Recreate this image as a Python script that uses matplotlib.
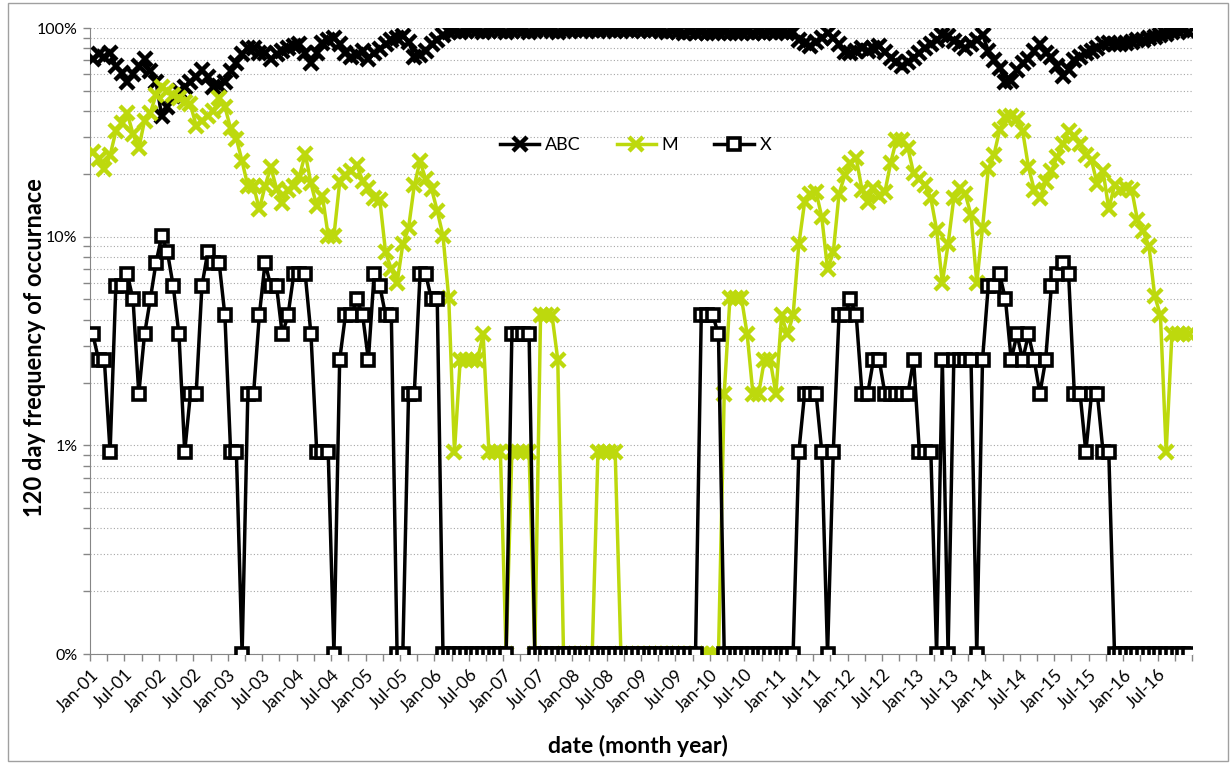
import matplotlib.pyplot as plt
from matplotlib.patches import Rectangle
import numpy as np

GREEN = '#BDD90D'
GRID = '#A6A6A6'
AXIS = '#868686'

# monthly values in percent, Jan-01 .. Dec-16 (0 = no occurrence)
abc = [71, 75, 73, 76, 66, 61, 55, 60, 66, 71, 62, 55,
       38, 42, 47, 50, 52, 55, 58, 63, 58, 52, 53, 55,
       62, 68, 75, 80, 80, 76, 76, 71, 75, 78, 80, 82,
       84, 76, 68, 76, 85, 88, 90, 84, 76, 73, 74, 78,
       71, 76, 79, 84, 88, 90, 92, 86, 73, 74, 78, 84,
       88, 93, 96, 97, 96, 97, 98, 97, 96, 97, 98, 97,
       96, 97, 98, 97, 96, 97, 98, 98, 97, 96, 97, 98,
       98, 97, 98, 98, 97, 98, 98, 97, 98, 98, 97, 98,
       98, 97, 98, 97, 96, 97, 96, 95, 96, 95, 96, 95,
       95, 96, 96, 95, 95, 96, 96, 95, 96, 95, 96, 96,
       96, 95, 96, 88, 85, 82, 86, 90, 95, 90, 84, 77,
       76, 78, 80, 78, 80, 82, 77, 72, 69, 66, 69, 72,
       76, 80, 84, 88, 93, 92, 87, 84, 80, 84, 88, 93,
       78, 70, 64, 55, 56, 63, 68, 71, 78, 84, 76, 73,
       66, 59, 63, 70, 73, 76, 78, 80, 84, 85, 84, 84,
       85, 86, 88, 88, 90, 91, 93, 94, 96, 97, 98, 96]

m = [25.5, 23.5, 21, 24.5, 32, 35, 39, 31, 26.5, 36, 39, 48,
     52, 50, 48, 46, 44, 43, 34, 36, 38, 40, 46, 42,
     33, 29.5, 23, 17.5, 17.5, 13.5, 17.5, 21.5, 17, 14.5, 16.8, 17.5,
     19.5, 25, 18, 14, 15.6, 10.1, 10.1, 18.2, 19.7, 20.6, 22, 18.5,
     17.2, 15.3, 15, 8.4, 7, 6, 9.2, 11, 17.6, 23, 18.8, 17,
     13.3, 10.1, 5.1, 0.93, 2.57, 2.57, 2.57, 2.57, 3.4, 0.93, 0.93, 0.93,
     0, 0.93, 0.93, 0.93, 0.93, 0, 4.2, 4.2, 4.2, 2.57, 0, 0,
     0, 0, 0, 0, 0.93, 0.93, 0.93, 0.93, 0, 0, 0, 0,
     0, 0, 0, 0, 0, 0, 0, 0, 0, 0, 0, 0,
     0, 0, 1.77, 5.1, 5.1, 5.1, 3.4, 1.77, 1.77, 2.57, 2.57, 1.77,
     4.2, 3.4, 4.2, 9.2, 14.6, 16, 16.4, 12.4, 7, 8.4, 16, 19.7,
     22.6, 23.7, 16.8, 14.6, 17.2, 15.6, 16.4, 22.6, 29.1, 29.1, 26.6, 20.1,
     19, 17.6, 15.3, 10.8, 6, 9.2, 15.3, 17.2, 16, 12.7, 6, 11,
     21, 24.7, 32.6, 37.5, 38, 36.7, 32, 21.6, 16.8, 15.3, 18.2, 20.6,
     24.2, 27.8, 32, 30.5, 27.8, 24.7, 23.2, 17.8, 20.6, 13.6, 17.6, 16.8,
     17.2, 16.8, 12, 10.6, 9, 5.2, 4.2, 0.93, 3.4, 3.4, 3.4, 3.4]

x_series = [3.4, 2.57, 2.57, 0.93, 5.8, 5.8, 6.6, 5.0, 1.77, 3.4, 5.0, 7.5,
            10.1, 8.4, 5.8, 3.4, 0.93, 1.77, 1.77, 5.8, 8.4, 7.5, 7.5, 4.2,
            0.93, 0.93, 0, 1.77, 1.77, 4.2, 7.5, 5.8, 5.8, 3.4, 4.2, 6.6,
            6.6, 6.6, 3.4, 0.93, 0.93, 0.93, 0, 2.57, 4.2, 4.2, 5.0, 4.2,
            2.57, 6.6, 5.8, 4.2, 4.2, 0, 0, 1.77, 1.77, 6.6, 6.6, 5.0,
            5.0, 0, 0, 0, 0, 0, 0, 0, 0, 0, 0, 0,
            0, 3.4, 3.4, 3.4, 3.4, 0, 0, 0, 0, 0, 0, 0,
            0, 0, 0, 0, 0, 0, 0, 0, 0, 0, 0, 0,
            0, 0, 0, 0, 0, 0, 0, 0, 0, 0, 4.2, 4.2,
            4.2, 3.4, 0, 0, 0, 0, 0, 0, 0, 0, 0, 0,
            0, 0, 0, 0.93, 1.77, 1.77, 1.77, 0.93, 0, 0.93, 4.2, 4.2,
            5.0, 4.2, 1.77, 1.77, 2.57, 2.57, 1.77, 1.77, 1.77, 1.77, 1.77, 2.57,
            0.93, 0.93, 0.93, 0, 2.57, 0, 2.57, 2.57, 2.57, 2.57, 0, 2.57,
            5.8, 5.8, 6.6, 5.0, 2.57, 3.4, 2.57, 3.4, 2.57, 1.77, 2.57, 5.8,
            6.6, 7.5, 6.6, 1.77, 1.77, 0.93, 1.77, 1.77, 0.93, 0.93, 0, 0,
            0, 0, 0, 0, 0, 0, 0, 0, 0, 0, 0, 0]

date_labels = ['Jan-01', 'Jul-01', 'Jan-02', 'Jul-02', 'Jan-03', 'Jul-03',
               'Jan-04', 'Jul-04', 'Jan-05', 'Jul-05', 'Jan-06', 'Jul-06',
               'Jan-07', 'Jul-07', 'Jan-08', 'Jul-08', 'Jan-09', 'Jul-09',
               'Jan-10', 'Jul-10', 'Jan-11', 'Jul-11', 'Jan-12', 'Jul-12',
               'Jan-13', 'Jul-13', 'Jan-14', 'Jul-14', 'Jan-15', 'Jul-15',
               'Jan-16', 'Jul-16']

ZERO = 0.1  # where 0% sits on the log axis


def floor(vals):
    return [v if v > 0 else ZERO for v in vals]


plt.rcParams['font.family'] = ['Lato', 'DejaVu Sans']

fig = plt.figure(figsize=(12.32, 7.64), dpi=100)
ax = fig.add_axes([90 / 1232, 110 / 764, 1102 / 1232, 626 / 764])

idx = np.arange(len(abc))
ax.plot(idx, floor(abc), color='black', lw=2.5, marker='x', ms=10, mew=3.2,
        label='ABC', zorder=3)
ax.plot(idx, floor(m), color=GREEN, lw=2.5, marker='x', ms=10, mew=3.2,
        label='M', zorder=4)
ax.plot(idx, floor(x_series), color='black', lw=2.5, marker='s', ms=9,
        mfc='white', mec='black', mew=2.6, label='X', zorder=5)

ax.set_yscale('log')
ax.set_ylim(ZERO, 100)
ax.set_xlim(-0.5, len(abc) - 0.5)
ax.set_yticks([0.1, 1, 10, 100])
ax.set_yticklabels(['0%', '1%', '10%', '100%'])
ax.yaxis.set_minor_formatter(plt.NullFormatter())
ax.grid(True, which='both', axis='y', color=GRID, ls=(0, (1, 2)), lw=0.8)
ax.set_axisbelow(True)

ax.set_xticks(np.arange(len(date_labels)) * 6 - 0.5)
ax.set_xticklabels(date_labels, rotation=45, ha='right', va='top',
                   rotation_mode='anchor')
ax.set_xticks(np.arange(0, len(abc) + 1, 3) - 0.5, minor=True)

for s in ['top', 'right']:
    ax.spines[s].set_visible(False)
for s in ['left', 'bottom']:
    ax.spines[s].set_color(AXIS)
ax.tick_params(which='both', color=AXIS, length=5, width=1)
ax.tick_params(axis='x', pad=4, labelsize=12.5)
ax.tick_params(axis='y', pad=4, labelsize=11.5)

ax.legend(loc='center', bbox_to_anchor=(0.495, 0.813), ncol=3, frameon=False,
          fontsize=13, handlelength=2.2, columnspacing=2.0, handletextpad=0.3)

fig.text(35 / 1232, 1 - 348 / 764, '120 day frequency of occurnace', rotation=90,
         ha='center', va='center', fontsize=17, fontweight='bold')
fig.text(638 / 1232, 1 - 746 / 764, 'date (month year)', ha='center',
         va='center', fontsize=16.5, fontweight='bold')

fig.patches.append(Rectangle((8 / 1232, 3 / 764), 1220 / 1232, 758 / 764,
                             transform=fig.transFigure, fill=False,
                             ec='#A0A0A0', lw=1))

plt.savefig('out.png')
